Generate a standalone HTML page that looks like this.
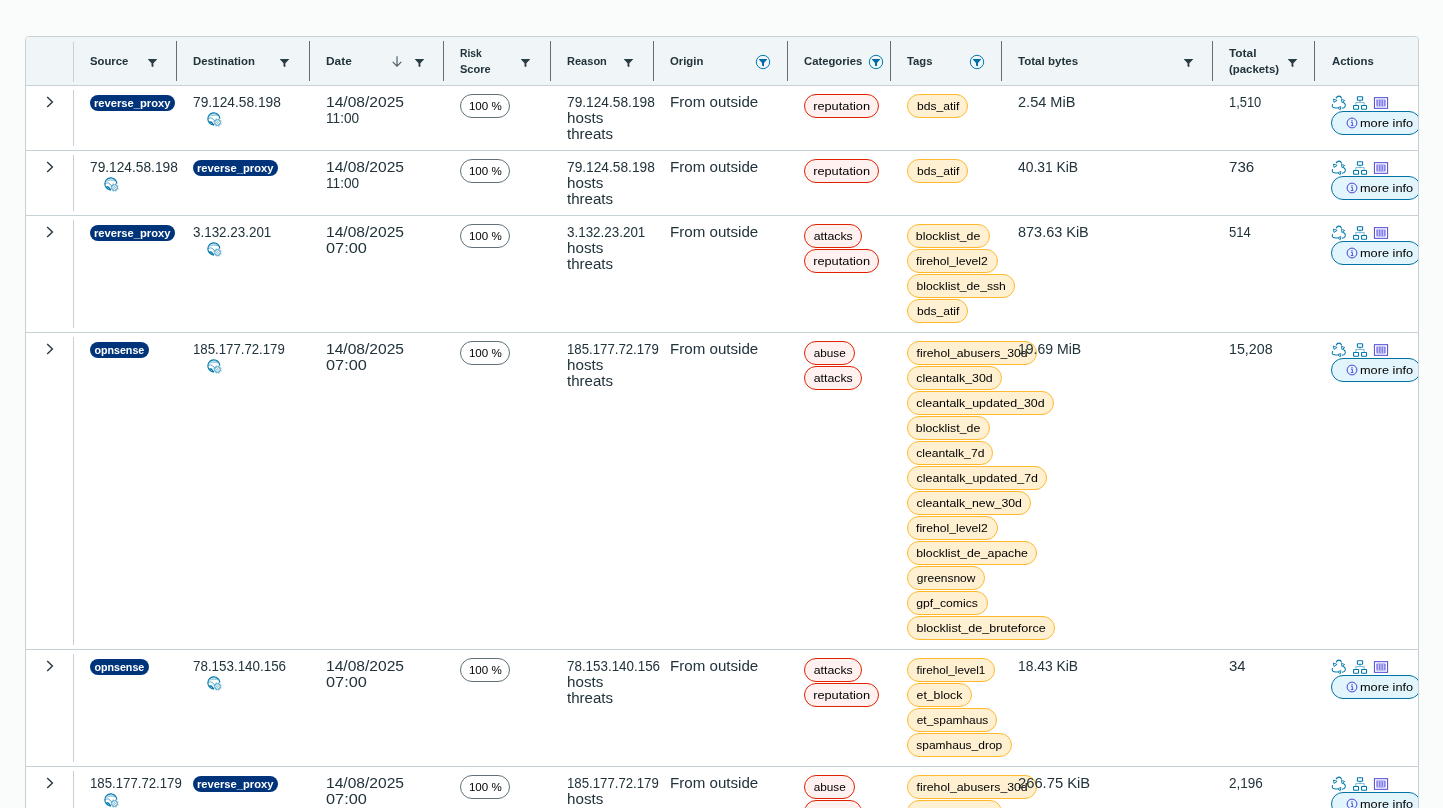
<!DOCTYPE html>
<html lang="en"><head><meta charset="utf-8"><title>Threats</title>
<style>
html,body{margin:0;padding:0}
body{width:1443px;height:808px;overflow:hidden;background:#fafcfc;font-family:"Liberation Sans",sans-serif;color:#21333b;position:relative}
.grid{position:absolute;left:25px;top:36px;width:1392px;height:900px;border:1px solid #c6d0d5;border-radius:4px 4px 0 0;background:#fff;overflow:hidden}
.hd{position:absolute;left:0;top:0;width:1392px;height:48px;background:#f0f5f7;border-bottom:1px solid #c6d0d5}
.hd .sl,.hd .sd{position:absolute;top:4px;width:1px;height:40px;background:#c6d0d5}
.hd .sd{background:#5f7078}
.hd .sl{top:5px}
.h{position:absolute;font-weight:700;font-size:11px;line-height:16px;white-space:nowrap;color:#21333b}
.t{white-space:nowrap;display:inline-block;transform-origin:0 50%}
.lb .t,.bdg .t{transform-origin:50% 50%}
.ab{position:absolute;display:block;line-height:0}
svg{display:block}
.row{position:absolute;left:0;width:1392px;border-bottom:1px solid #c6d0d5;background:transparent}
.rs{position:absolute;left:47px;top:4px;bottom:4px;width:1px;background:#c6d0d5}
.c{position:absolute;top:8px;font-size:14px;line-height:16px;white-space:nowrap}
.bdg{display:inline-block;height:16px;line-height:16px;border-radius:8px;background:#00347a;color:#fff;font-weight:700;font-size:10px;padding:0;text-align:center;margin-top:1px;vertical-align:top}
.bdg .t{vertical-align:top;line-height:16px;position:relative;top:.6px}
.glw{display:inline-block;margin-left:13.5px;vertical-align:top;margin-top:1.5px}
.lb{display:block;width:max-content;box-sizing:border-box;height:24px;line-height:22px;border-radius:12px;border:1px solid #5f7078;padding:0;text-align:center;margin:0 0 1px 0;font-size:11.5px;color:#000;background:#fff}
.lb .t{vertical-align:top;line-height:22px}
.lr{border-color:#e02200;background:#fff1ef}
.lo{border-color:#ffb92e;background:#fff0d1}
.acts{position:absolute;left:-1px;top:1px}
.act{line-height:0}
.mi{display:block;position:absolute;left:-1px;top:17px;width:90px;height:24px;box-sizing:border-box;border:1.4px solid #0072a3;border-radius:12px;background:#e3f5fc;font-size:11.5px;color:#000;line-height:21px}
.mi .inf{position:absolute;left:13.5px;top:5.1px}
.mi .t{position:absolute;left:27.7px;top:1px;line-height:21px}
</style></head>
<body>
<div class="grid">
<div class="hd">
<i class="sl" style="left:47px"></i>
<i class="sd" style="left:150px"></i>
<i class="sd" style="left:283px"></i>
<i class="sd" style="left:417px"></i>
<i class="sd" style="left:524px"></i>
<i class="sd" style="left:627px"></i>
<i class="sd" style="left:761px"></i>
<i class="sd" style="left:864px"></i>
<i class="sd" style="left:975px"></i>
<i class="sd" style="left:1186px"></i>
<i class="sd" style="left:1288px"></i>
<div class="h" style="left:64px;top:16px"><span class="t h" style="transform:scaleX(1.026)">Source</span></div>
<div class="h" style="left:167px;top:16px"><span class="t h" style="transform:scaleX(1.034)">Destination</span></div>
<div class="h" style="left:300px;top:16px"><span class="t h" style="transform:scaleX(1.082)">Date</span></div>
<div class="h" style="left:434px;top:8px"><span class="t h" style="transform:scaleX(0.936)">Risk</span></div>
<div class="h" style="left:434px;top:24px"><span class="t h" style="transform:scaleX(1.002)">Score</span></div>
<div class="h" style="left:541px;top:16px"><span class="t h" style="transform:scaleX(1.003)">Reason</span></div>
<div class="h" style="left:644px;top:16px"><span class="t h" style="transform:scaleX(1.029)">Origin</span></div>
<div class="h" style="left:778px;top:16px"><span class="t h" style="transform:scaleX(1.025)">Categories</span></div>
<div class="h" style="left:881px;top:16px"><span class="t h" style="transform:scaleX(1.024)">Tags</span></div>
<div class="h" style="left:992px;top:16px"><span class="t h" style="transform:scaleX(1.051)">Total bytes</span></div>
<div class="h" style="left:1203px;top:8px"><span class="t h" style="transform:scaleX(1.077)">Total</span></div>
<div class="h" style="left:1203px;top:24px"><span class="t h" style="transform:scaleX(1.036)">(packets)</span></div>
<div class="h" style="left:1306px;top:16px"><span class="t h" style="transform:scaleX(1.034)">Actions</span></div>
<span class="ab" style="left:121.6px;top:22px"><svg class="fi" viewBox="0 0 9 8" width="9" height="8"><path d="M.3 0h8.400a.3.3 0 0 1 .250.500L5.400 4.300V7.600c0 .3-.3.500-.6.400L3.500 7.300V4.300L.050.500A.3.3 0 0 1 .3 0z" fill="#2a3c44"/></svg></span>
<span class="ab" style="left:254.2px;top:22px"><svg class="fi" viewBox="0 0 9 8" width="9" height="8"><path d="M.3 0h8.400a.3.3 0 0 1 .250.500L5.400 4.300V7.600c0 .3-.3.500-.6.400L3.500 7.300V4.300L.050.500A.3.3 0 0 1 .3 0z" fill="#2a3c44"/></svg></span>
<span class="ab" style="left:388.6px;top:22px"><svg class="fi" viewBox="0 0 9 8" width="9" height="8"><path d="M.3 0h8.400a.3.3 0 0 1 .250.500L5.400 4.300V7.600c0 .3-.3.500-.6.400L3.500 7.300V4.300L.050.500A.3.3 0 0 1 .3 0z" fill="#2a3c44"/></svg></span>
<span class="ab" style="left:495.2px;top:22px"><svg class="fi" viewBox="0 0 9 8" width="9" height="8"><path d="M.3 0h8.400a.3.3 0 0 1 .250.500L5.400 4.300V7.600c0 .3-.3.500-.6.400L3.500 7.300V4.300L.050.500A.3.3 0 0 1 .3 0z" fill="#2a3c44"/></svg></span>
<span class="ab" style="left:598.3px;top:22px"><svg class="fi" viewBox="0 0 9 8" width="9" height="8"><path d="M.3 0h8.400a.3.3 0 0 1 .250.500L5.400 4.300V7.600c0 .3-.3.500-.6.400L3.500 7.300V4.300L.050.500A.3.3 0 0 1 .3 0z" fill="#2a3c44"/></svg></span>
<span class="ab" style="left:1157.7px;top:22px"><svg class="fi" viewBox="0 0 9 8" width="9" height="8"><path d="M.3 0h8.400a.3.3 0 0 1 .250.500L5.400 4.300V7.600c0 .3-.3.500-.6.400L3.500 7.300V4.300L.050.500A.3.3 0 0 1 .3 0z" fill="#2a3c44"/></svg></span>
<span class="ab" style="left:1262.4px;top:22px"><svg class="fi" viewBox="0 0 9 8" width="9" height="8"><path d="M.3 0h8.400a.3.3 0 0 1 .250.500L5.400 4.300V7.600c0 .3-.3.500-.6.400L3.500 7.300V4.300L.050.500A.3.3 0 0 1 .3 0z" fill="#2a3c44"/></svg></span>
<span class="ab" style="left:728.8px;top:16.8px"><svg class="fc" viewBox="0 0 16 16" width="16" height="16"><circle cx="8" cy="8" r="6.700" fill="none" stroke="#0079ad" stroke-width="1"/><path d="M4.200 5h7.600a.3.3 0 0 1 .230.500L9 9v2.800c0 .3-.3.500-.6.400L7 11.500V9L3.970 5.500A.3.300 0 0 1 4.200 5z" fill="#006aa6"/></svg></span>
<span class="ab" style="left:842.0px;top:16.8px"><svg class="fc" viewBox="0 0 16 16" width="16" height="16"><circle cx="8" cy="8" r="6.700" fill="none" stroke="#0079ad" stroke-width="1"/><path d="M4.200 5h7.600a.3.3 0 0 1 .230.500L9 9v2.800c0 .3-.3.500-.6.400L7 11.500V9L3.970 5.500A.3.300 0 0 1 4.200 5z" fill="#006aa6"/></svg></span>
<span class="ab" style="left:943.0px;top:16.8px"><svg class="fc" viewBox="0 0 16 16" width="16" height="16"><circle cx="8" cy="8" r="6.700" fill="none" stroke="#0079ad" stroke-width="1"/><path d="M4.200 5h7.600a.3.3 0 0 1 .230.500L9 9v2.800c0 .3-.3.500-.6.400L7 11.500V9L3.970 5.500A.3.300 0 0 1 4.200 5z" fill="#006aa6"/></svg></span>
<span class="ab" style="left:366.4px;top:19.0px"><svg class="ar" viewBox="0 0 10 11" width="10" height="11"><path d="M5 .2v10M.7 5.800l4.300 4.300 4.300-4.300" fill="none" stroke="#4b5c64" stroke-width="1.150"/></svg></span>
</div>
<div class="row" style="top:49px;height:64px">
<i class="rs"></i>
<span class="ab" style="left:20px;top:10px"><svg class="ca" viewBox="0 0 8 12" width="8" height="12"><path d="M1.2 1l5.2 5-5.2 5" fill="none" stroke="#2a3c44" stroke-width="1.450"/></svg></span>
<div class="c" style="left:64px"><span class="bdg" style="width:85px"><span class="t bd" style="transform:scaleX(1.118)">reverse_proxy</span></span></div>
<div class="c" style="left:167px"><span class="t v" style="transform:scaleX(0.981)">79.124.58.198</span><br><span class="glw"><svg class="gl" viewBox="0 0 15 15" width="15" height="15"><g fill="none" stroke="#0079ad"><path d="M6.33 12.83A6 6 0 1 1 12.8 6.08" stroke-width="1.150" stroke-linecap="round"/><path d="M2.400 4.300C5 2.900 8.700 2.800 11.500 4" stroke-width=".8" opacity=".6"/><path d="M3.600 2.300c2.400-.600 5-.300 7 .700" stroke-width=".7" opacity=".45"/><path d="M1.200 6.600C3 5.600 4.800 5.800 5.800 6.900c.700.800 1 1.600 2 2" stroke-width=".8" opacity=".8"/><path d="M2.600 10.200c.900-.500 1.900-.200 2.500.700.500.700.500 1.400 1.200 1.800" stroke-width="1.400" stroke-linecap="round"/><path d="M13.41 11.71L14.29 12.07M11.71 13.41L12.07 14.29M9.29 13.41L8.93 14.29M7.59 11.71L6.71 12.07M7.59 9.29L6.71 8.93M9.29 7.59L8.93 6.71M11.71 7.59L12.07 6.71M13.41 9.29L14.29 8.93" stroke-width="1.100"/><circle cx="10.500" cy="10.500" r="2.750" stroke-width=".7"/><circle cx="10.500" cy="10.500" r=".9" stroke-width=".55" opacity=".8"/></g></svg></span></div>
<div class="c" style="left:300px"><span class="t v" style="transform:scaleX(1.113)">14/08/2025</span><br><span class="t v" style="transform:scaleX(0.974)">11:00</span></div>
<div class="c" style="left:434px"><span class="lb lg" style="width:50.0px"><span class="t l" style="transform:scaleX(1.007)">100 %</span></span></div>
<div class="c" style="left:541px"><span class="t v" style="transform:scaleX(0.981)">79.124.58.198</span><br><span class="t v" style="transform:scaleX(1.084)">hosts</span><br><span class="t v" style="transform:scaleX(1.077)">threats</span></div>
<div class="c" style="left:644px"><span class="t v" style="transform:scaleX(1.080)">From outside</span></div>
<div class="c" style="left:778px"><span class="lb lr" style="width:74.8px"><span class="t l" style="transform:scaleX(1.112)">reputation</span></span></div>
<div class="c" style="left:881px"><span class="lb lo" style="width:61.4px"><span class="t l" style="transform:scaleX(1.054)">bds_atif</span></span></div>
<div class="c" style="left:992px"><span class="t v" style="transform:scaleX(1.039)">2.54 MiB</span></div>
<div class="c" style="left:1203px"><span class="t v" style="transform:scaleX(0.921)">1,510</span></div>
<div class="c act" style="left:1306px"><svg class="acts" viewBox="0 0 58 16" width="58" height="16"><g fill="none" stroke="#0079ad" stroke-width="1.05" stroke-linecap="round" stroke-linejoin="round"><path d="M5.3 3C5.8 1.5 6.9 1.1 8 1.1c1.300 0 2.100.700 2.500 2"/><path d="M12.600 7.500c1.500 1.100 2.200 2.300 1.700 3.600-.500 1.300-1.600 2-3.100 2.200"/><path d="M1.500 9.500c-.600 1.100-.400 2 .300 2.700.900.800 2.200.900 4 .800"/><path d="M2.800 4.200l3.300 1.200-2.800 1.800z" stroke-width=".9"/><path d="M10.800 4.500l2.900 1-2.400 1.900z" stroke-width=".9"/><path d="M9.500 11.700l-3 1.100 2.500 1.700z" stroke-width=".9"/></g><g fill="none" stroke="#0079ad" stroke-width="1.1" stroke-linejoin="round"><rect x="26.400" y="1.750" width="5.200" height="3.500" rx=".5"/><rect x="22.550" y="10.550" width="5" height="3.700" rx=".5"/><rect x="30.550" y="10.550" width="5" height="3.700" rx=".5"/><path d="M29 5.500v2M24.800 10V7.600h8.400V10" stroke-width=".7" opacity=".75"/></g><rect x="43.450" y="2.650" width="13.100" height="10.700" fill="#fff" stroke="#5b57d9" stroke-width="1.1"/><rect x="45.300" y="4.500" width="9.400" height="7" rx=".8" fill="#8581e6"/><path d="M47.400 5v6M50 5v6M52.600 5v6" stroke="#cfcdf6" stroke-width="1.050"/></svg><span class="mi"><svg class="inf" viewBox="0 0 12 12" width="12" height="12"><circle cx="6" cy="6" r="4.900" fill="none" stroke="#4b43d6" stroke-width="1"/><circle cx="6" cy="3.700" r=".700" fill="#4b43d6"/><path d="M5 5.300h1.400v3M4.800 8.500h2.600" fill="none" stroke="#4b43d6" stroke-width=".9"/></svg><span class="t m" style="transform:scaleX(1.108)">more info</span></span></div>
</div>
<div class="row" style="top:114px;height:64px">
<i class="rs"></i>
<span class="ab" style="left:20px;top:10px"><svg class="ca" viewBox="0 0 8 12" width="8" height="12"><path d="M1.2 1l5.2 5-5.2 5" fill="none" stroke="#2a3c44" stroke-width="1.450"/></svg></span>
<div class="c" style="left:64px"><span class="t v" style="transform:scaleX(0.981)">79.124.58.198</span><br><span class="glw"><svg class="gl" viewBox="0 0 15 15" width="15" height="15"><g fill="none" stroke="#0079ad"><path d="M6.33 12.83A6 6 0 1 1 12.8 6.08" stroke-width="1.150" stroke-linecap="round"/><path d="M2.400 4.300C5 2.900 8.700 2.800 11.500 4" stroke-width=".8" opacity=".6"/><path d="M3.600 2.300c2.400-.600 5-.300 7 .700" stroke-width=".7" opacity=".45"/><path d="M1.200 6.600C3 5.600 4.800 5.800 5.800 6.900c.700.800 1 1.600 2 2" stroke-width=".8" opacity=".8"/><path d="M2.600 10.200c.900-.500 1.900-.200 2.500.700.500.700.500 1.400 1.200 1.800" stroke-width="1.400" stroke-linecap="round"/><path d="M13.41 11.71L14.29 12.07M11.71 13.41L12.07 14.29M9.29 13.41L8.93 14.29M7.59 11.71L6.71 12.07M7.59 9.29L6.71 8.93M9.29 7.59L8.93 6.71M11.71 7.59L12.07 6.71M13.41 9.29L14.29 8.93" stroke-width="1.100"/><circle cx="10.500" cy="10.500" r="2.750" stroke-width=".7"/><circle cx="10.500" cy="10.500" r=".9" stroke-width=".55" opacity=".8"/></g></svg></span></div>
<div class="c" style="left:167px"><span class="bdg" style="width:85px"><span class="t bd" style="transform:scaleX(1.118)">reverse_proxy</span></span></div>
<div class="c" style="left:300px"><span class="t v" style="transform:scaleX(1.113)">14/08/2025</span><br><span class="t v" style="transform:scaleX(0.974)">11:00</span></div>
<div class="c" style="left:434px"><span class="lb lg" style="width:50.0px"><span class="t l" style="transform:scaleX(1.007)">100 %</span></span></div>
<div class="c" style="left:541px"><span class="t v" style="transform:scaleX(0.981)">79.124.58.198</span><br><span class="t v" style="transform:scaleX(1.084)">hosts</span><br><span class="t v" style="transform:scaleX(1.077)">threats</span></div>
<div class="c" style="left:644px"><span class="t v" style="transform:scaleX(1.080)">From outside</span></div>
<div class="c" style="left:778px"><span class="lb lr" style="width:74.8px"><span class="t l" style="transform:scaleX(1.112)">reputation</span></span></div>
<div class="c" style="left:881px"><span class="lb lo" style="width:61.4px"><span class="t l" style="transform:scaleX(1.054)">bds_atif</span></span></div>
<div class="c" style="left:992px"><span class="t v" style="transform:scaleX(0.990)">40.31 KiB</span></div>
<div class="c" style="left:1203px"><span class="t v" style="transform:scaleX(1.080)">736</span></div>
<div class="c act" style="left:1306px"><svg class="acts" viewBox="0 0 58 16" width="58" height="16"><g fill="none" stroke="#0079ad" stroke-width="1.05" stroke-linecap="round" stroke-linejoin="round"><path d="M5.3 3C5.8 1.5 6.9 1.1 8 1.1c1.300 0 2.100.700 2.500 2"/><path d="M12.600 7.500c1.500 1.100 2.200 2.300 1.700 3.600-.500 1.300-1.600 2-3.100 2.200"/><path d="M1.500 9.500c-.600 1.100-.400 2 .300 2.700.900.800 2.200.900 4 .800"/><path d="M2.800 4.200l3.300 1.200-2.800 1.800z" stroke-width=".9"/><path d="M10.800 4.500l2.900 1-2.400 1.900z" stroke-width=".9"/><path d="M9.500 11.700l-3 1.100 2.500 1.700z" stroke-width=".9"/></g><g fill="none" stroke="#0079ad" stroke-width="1.1" stroke-linejoin="round"><rect x="26.400" y="1.750" width="5.200" height="3.500" rx=".5"/><rect x="22.550" y="10.550" width="5" height="3.700" rx=".5"/><rect x="30.550" y="10.550" width="5" height="3.700" rx=".5"/><path d="M29 5.500v2M24.800 10V7.600h8.400V10" stroke-width=".7" opacity=".75"/></g><rect x="43.450" y="2.650" width="13.100" height="10.700" fill="#fff" stroke="#5b57d9" stroke-width="1.1"/><rect x="45.300" y="4.500" width="9.400" height="7" rx=".8" fill="#8581e6"/><path d="M47.400 5v6M50 5v6M52.600 5v6" stroke="#cfcdf6" stroke-width="1.050"/></svg><span class="mi"><svg class="inf" viewBox="0 0 12 12" width="12" height="12"><circle cx="6" cy="6" r="4.900" fill="none" stroke="#4b43d6" stroke-width="1"/><circle cx="6" cy="3.700" r=".700" fill="#4b43d6"/><path d="M5 5.300h1.400v3M4.800 8.500h2.600" fill="none" stroke="#4b43d6" stroke-width=".9"/></svg><span class="t m" style="transform:scaleX(1.108)">more info</span></span></div>
</div>
<div class="row" style="top:179px;height:116px">
<i class="rs"></i>
<span class="ab" style="left:20px;top:10px"><svg class="ca" viewBox="0 0 8 12" width="8" height="12"><path d="M1.2 1l5.2 5-5.2 5" fill="none" stroke="#2a3c44" stroke-width="1.450"/></svg></span>
<div class="c" style="left:64px"><span class="bdg" style="width:85px"><span class="t bd" style="transform:scaleX(1.118)">reverse_proxy</span></span></div>
<div class="c" style="left:167px"><span class="t v" style="transform:scaleX(0.958)">3.132.23.201</span><br><span class="glw"><svg class="gl" viewBox="0 0 15 15" width="15" height="15"><g fill="none" stroke="#0079ad"><path d="M6.33 12.83A6 6 0 1 1 12.8 6.08" stroke-width="1.150" stroke-linecap="round"/><path d="M2.400 4.300C5 2.900 8.700 2.800 11.500 4" stroke-width=".8" opacity=".6"/><path d="M3.600 2.300c2.400-.600 5-.300 7 .700" stroke-width=".7" opacity=".45"/><path d="M1.200 6.600C3 5.600 4.800 5.800 5.800 6.900c.700.800 1 1.600 2 2" stroke-width=".8" opacity=".8"/><path d="M2.600 10.200c.900-.500 1.900-.200 2.500.700.500.700.500 1.400 1.200 1.800" stroke-width="1.400" stroke-linecap="round"/><path d="M13.41 11.71L14.29 12.07M11.71 13.41L12.07 14.29M9.29 13.41L8.93 14.29M7.59 11.71L6.71 12.07M7.59 9.29L6.71 8.93M9.29 7.59L8.93 6.71M11.71 7.59L12.07 6.71M13.41 9.29L14.29 8.93" stroke-width="1.100"/><circle cx="10.500" cy="10.500" r="2.750" stroke-width=".7"/><circle cx="10.500" cy="10.500" r=".9" stroke-width=".55" opacity=".8"/></g></svg></span></div>
<div class="c" style="left:300px"><span class="t v" style="transform:scaleX(1.113)">14/08/2025</span><br><span class="t v" style="transform:scaleX(1.167)">07:00</span></div>
<div class="c" style="left:434px"><span class="lb lg" style="width:50.0px"><span class="t l" style="transform:scaleX(1.007)">100 %</span></span></div>
<div class="c" style="left:541px"><span class="t v" style="transform:scaleX(0.958)">3.132.23.201</span><br><span class="t v" style="transform:scaleX(1.084)">hosts</span><br><span class="t v" style="transform:scaleX(1.077)">threats</span></div>
<div class="c" style="left:644px"><span class="t v" style="transform:scaleX(1.080)">From outside</span></div>
<div class="c" style="left:778px"><span class="lb lr" style="width:57.8px"><span class="t l" style="transform:scaleX(1.072)">attacks</span></span><span class="lb lr" style="width:74.8px"><span class="t l" style="transform:scaleX(1.112)">reputation</span></span></div>
<div class="c" style="left:881px"><span class="lb lo" style="width:82.6px"><span class="t l" style="transform:scaleX(1.074)">blocklist_de</span></span><span class="lb lo" style="width:90.6px"><span class="t l" style="transform:scaleX(1.059)">firehol_level2</span></span><span class="lb lo" style="width:107.6px"><span class="t l" style="transform:scaleX(1.058)">blocklist_de_ssh</span></span><span class="lb lo" style="width:61.4px"><span class="t l" style="transform:scaleX(1.054)">bds_atif</span></span></div>
<div class="c" style="left:992px"><span class="t v" style="transform:scaleX(1.033)">873.63 KiB</span></div>
<div class="c" style="left:1203px"><span class="t v" style="transform:scaleX(0.932)">514</span></div>
<div class="c act" style="left:1306px"><svg class="acts" viewBox="0 0 58 16" width="58" height="16"><g fill="none" stroke="#0079ad" stroke-width="1.05" stroke-linecap="round" stroke-linejoin="round"><path d="M5.3 3C5.8 1.5 6.9 1.1 8 1.1c1.300 0 2.100.700 2.500 2"/><path d="M12.600 7.500c1.500 1.100 2.200 2.300 1.700 3.600-.500 1.300-1.600 2-3.100 2.200"/><path d="M1.500 9.500c-.600 1.100-.400 2 .300 2.700.900.800 2.200.900 4 .800"/><path d="M2.800 4.200l3.300 1.200-2.800 1.800z" stroke-width=".9"/><path d="M10.800 4.500l2.900 1-2.400 1.900z" stroke-width=".9"/><path d="M9.500 11.700l-3 1.100 2.500 1.700z" stroke-width=".9"/></g><g fill="none" stroke="#0079ad" stroke-width="1.1" stroke-linejoin="round"><rect x="26.400" y="1.750" width="5.200" height="3.500" rx=".5"/><rect x="22.550" y="10.550" width="5" height="3.700" rx=".5"/><rect x="30.550" y="10.550" width="5" height="3.700" rx=".5"/><path d="M29 5.500v2M24.800 10V7.600h8.400V10" stroke-width=".7" opacity=".75"/></g><rect x="43.450" y="2.650" width="13.100" height="10.700" fill="#fff" stroke="#5b57d9" stroke-width="1.1"/><rect x="45.300" y="4.500" width="9.400" height="7" rx=".8" fill="#8581e6"/><path d="M47.400 5v6M50 5v6M52.600 5v6" stroke="#cfcdf6" stroke-width="1.050"/></svg><span class="mi"><svg class="inf" viewBox="0 0 12 12" width="12" height="12"><circle cx="6" cy="6" r="4.900" fill="none" stroke="#4b43d6" stroke-width="1"/><circle cx="6" cy="3.700" r=".700" fill="#4b43d6"/><path d="M5 5.300h1.400v3M4.800 8.500h2.600" fill="none" stroke="#4b43d6" stroke-width=".9"/></svg><span class="t m" style="transform:scaleX(1.108)">more info</span></span></div>
</div>
<div class="row" style="top:296px;height:316px">
<i class="rs"></i>
<span class="ab" style="left:20px;top:10px"><svg class="ca" viewBox="0 0 8 12" width="8" height="12"><path d="M1.2 1l5.2 5-5.2 5" fill="none" stroke="#2a3c44" stroke-width="1.450"/></svg></span>
<div class="c" style="left:64px"><span class="bdg" style="width:59px"><span class="t bd" style="transform:scaleX(1.069)">opnsense</span></span></div>
<div class="c" style="left:167px"><span class="t v" style="transform:scaleX(0.943)">185.177.72.179</span><br><span class="glw"><svg class="gl" viewBox="0 0 15 15" width="15" height="15"><g fill="none" stroke="#0079ad"><path d="M6.33 12.83A6 6 0 1 1 12.8 6.08" stroke-width="1.150" stroke-linecap="round"/><path d="M2.400 4.300C5 2.900 8.700 2.800 11.500 4" stroke-width=".8" opacity=".6"/><path d="M3.600 2.300c2.400-.600 5-.300 7 .700" stroke-width=".7" opacity=".45"/><path d="M1.200 6.600C3 5.600 4.800 5.800 5.800 6.900c.700.800 1 1.600 2 2" stroke-width=".8" opacity=".8"/><path d="M2.600 10.200c.900-.500 1.900-.200 2.500.700.500.700.500 1.400 1.200 1.800" stroke-width="1.400" stroke-linecap="round"/><path d="M13.41 11.71L14.29 12.07M11.71 13.41L12.07 14.29M9.29 13.41L8.93 14.29M7.59 11.71L6.71 12.07M7.59 9.29L6.71 8.93M9.29 7.59L8.93 6.71M11.71 7.59L12.07 6.71M13.41 9.29L14.29 8.93" stroke-width="1.100"/><circle cx="10.500" cy="10.500" r="2.750" stroke-width=".7"/><circle cx="10.500" cy="10.500" r=".9" stroke-width=".55" opacity=".8"/></g></svg></span></div>
<div class="c" style="left:300px"><span class="t v" style="transform:scaleX(1.113)">14/08/2025</span><br><span class="t v" style="transform:scaleX(1.167)">07:00</span></div>
<div class="c" style="left:434px"><span class="lb lg" style="width:50.0px"><span class="t l" style="transform:scaleX(1.007)">100 %</span></span></div>
<div class="c" style="left:541px"><span class="t v" style="transform:scaleX(0.943)">185.177.72.179</span><br><span class="t v" style="transform:scaleX(1.084)">hosts</span><br><span class="t v" style="transform:scaleX(1.077)">threats</span></div>
<div class="c" style="left:644px"><span class="t v" style="transform:scaleX(1.080)">From outside</span></div>
<div class="c" style="left:778px"><span class="lb lr" style="width:50.8px"><span class="t l" style="transform:scaleX(1.021)">abuse</span></span><span class="lb lr" style="width:57.8px"><span class="t l" style="transform:scaleX(1.072)">attacks</span></span></div>
<div class="c" style="left:881px"><span class="lb lo" style="width:129.7px"><span class="t l" style="transform:scaleX(1.066)">firehol_abusers_30d</span></span><span class="lb lo" style="width:94.7px"><span class="t l" style="transform:scaleX(1.076)">cleantalk_30d</span></span><span class="lb lo" style="width:146.7px"><span class="t l" style="transform:scaleX(1.079)">cleantalk_updated_30d</span></span><span class="lb lo" style="width:82.6px"><span class="t l" style="transform:scaleX(1.074)">blocklist_de</span></span><span class="lb lo" style="width:86.3px"><span class="t l" style="transform:scaleX(1.056)">cleantalk_7d</span></span><span class="lb lo" style="width:139.8px"><span class="t l" style="transform:scaleX(1.078)">cleantalk_updated_7d</span></span><span class="lb lo" style="width:123.8px"><span class="t l" style="transform:scaleX(1.070)">cleantalk_new_30d</span></span><span class="lb lo" style="width:90.6px"><span class="t l" style="transform:scaleX(1.059)">firehol_level2</span></span><span class="lb lo" style="width:129.8px"><span class="t l" style="transform:scaleX(1.072)">blocklist_de_apache</span></span><span class="lb lo" style="width:77.7px"><span class="t l" style="transform:scaleX(1.042)">greensnow</span></span><span class="lb lo" style="width:80.5px"><span class="t l" style="transform:scaleX(1.061)">gpf_comics</span></span><span class="lb lo" style="width:147.6px"><span class="t l" style="transform:scaleX(1.094)">blocklist_de_bruteforce</span></span></div>
<div class="c" style="left:992px"><span class="t v" style="transform:scaleX(1.003)">19.69 MiB</span></div>
<div class="c" style="left:1203px"><span class="t v" style="transform:scaleX(1.018)">15,208</span></div>
<div class="c act" style="left:1306px"><svg class="acts" viewBox="0 0 58 16" width="58" height="16"><g fill="none" stroke="#0079ad" stroke-width="1.05" stroke-linecap="round" stroke-linejoin="round"><path d="M5.3 3C5.8 1.5 6.9 1.1 8 1.1c1.300 0 2.100.700 2.500 2"/><path d="M12.600 7.500c1.500 1.100 2.200 2.300 1.700 3.600-.500 1.300-1.600 2-3.100 2.200"/><path d="M1.500 9.500c-.600 1.100-.400 2 .300 2.700.900.800 2.200.900 4 .800"/><path d="M2.800 4.200l3.300 1.200-2.800 1.800z" stroke-width=".9"/><path d="M10.800 4.500l2.900 1-2.400 1.900z" stroke-width=".9"/><path d="M9.500 11.700l-3 1.100 2.500 1.700z" stroke-width=".9"/></g><g fill="none" stroke="#0079ad" stroke-width="1.1" stroke-linejoin="round"><rect x="26.400" y="1.750" width="5.200" height="3.500" rx=".5"/><rect x="22.550" y="10.550" width="5" height="3.700" rx=".5"/><rect x="30.550" y="10.550" width="5" height="3.700" rx=".5"/><path d="M29 5.500v2M24.800 10V7.600h8.400V10" stroke-width=".7" opacity=".75"/></g><rect x="43.450" y="2.650" width="13.100" height="10.700" fill="#fff" stroke="#5b57d9" stroke-width="1.1"/><rect x="45.300" y="4.500" width="9.400" height="7" rx=".8" fill="#8581e6"/><path d="M47.400 5v6M50 5v6M52.600 5v6" stroke="#cfcdf6" stroke-width="1.050"/></svg><span class="mi"><svg class="inf" viewBox="0 0 12 12" width="12" height="12"><circle cx="6" cy="6" r="4.900" fill="none" stroke="#4b43d6" stroke-width="1"/><circle cx="6" cy="3.700" r=".700" fill="#4b43d6"/><path d="M5 5.300h1.400v3M4.800 8.500h2.600" fill="none" stroke="#4b43d6" stroke-width=".9"/></svg><span class="t m" style="transform:scaleX(1.108)">more info</span></span></div>
</div>
<div class="row" style="top:613px;height:116px">
<i class="rs"></i>
<span class="ab" style="left:20px;top:10px"><svg class="ca" viewBox="0 0 8 12" width="8" height="12"><path d="M1.2 1l5.2 5-5.2 5" fill="none" stroke="#2a3c44" stroke-width="1.450"/></svg></span>
<div class="c" style="left:64px"><span class="bdg" style="width:59px"><span class="t bd" style="transform:scaleX(1.069)">opnsense</span></span></div>
<div class="c" style="left:167px"><span class="t v" style="transform:scaleX(0.956)">78.153.140.156</span><br><span class="glw"><svg class="gl" viewBox="0 0 15 15" width="15" height="15"><g fill="none" stroke="#0079ad"><path d="M6.33 12.83A6 6 0 1 1 12.8 6.08" stroke-width="1.150" stroke-linecap="round"/><path d="M2.400 4.300C5 2.900 8.700 2.800 11.500 4" stroke-width=".8" opacity=".6"/><path d="M3.600 2.300c2.400-.600 5-.300 7 .700" stroke-width=".7" opacity=".45"/><path d="M1.200 6.600C3 5.600 4.800 5.800 5.800 6.900c.700.800 1 1.600 2 2" stroke-width=".8" opacity=".8"/><path d="M2.600 10.200c.900-.500 1.900-.200 2.500.700.500.700.500 1.400 1.200 1.800" stroke-width="1.400" stroke-linecap="round"/><path d="M13.41 11.71L14.29 12.07M11.71 13.41L12.07 14.29M9.29 13.41L8.93 14.29M7.59 11.71L6.71 12.07M7.59 9.29L6.71 8.93M9.29 7.59L8.93 6.71M11.71 7.59L12.07 6.71M13.41 9.29L14.29 8.93" stroke-width="1.100"/><circle cx="10.500" cy="10.500" r="2.750" stroke-width=".7"/><circle cx="10.500" cy="10.500" r=".9" stroke-width=".55" opacity=".8"/></g></svg></span></div>
<div class="c" style="left:300px"><span class="t v" style="transform:scaleX(1.113)">14/08/2025</span><br><span class="t v" style="transform:scaleX(1.167)">07:00</span></div>
<div class="c" style="left:434px"><span class="lb lg" style="width:50.0px"><span class="t l" style="transform:scaleX(1.007)">100 %</span></span></div>
<div class="c" style="left:541px"><span class="t v" style="transform:scaleX(0.956)">78.153.140.156</span><br><span class="t v" style="transform:scaleX(1.084)">hosts</span><br><span class="t v" style="transform:scaleX(1.077)">threats</span></div>
<div class="c" style="left:644px"><span class="t v" style="transform:scaleX(1.080)">From outside</span></div>
<div class="c" style="left:778px"><span class="lb lr" style="width:57.8px"><span class="t l" style="transform:scaleX(1.072)">attacks</span></span><span class="lb lr" style="width:74.8px"><span class="t l" style="transform:scaleX(1.112)">reputation</span></span></div>
<div class="c" style="left:881px"><span class="lb lo" style="width:87.7px"><span class="t l" style="transform:scaleX(1.018)">firehol_level1</span></span><span class="lb lo" style="width:64.5px"><span class="t l" style="transform:scaleX(1.067)">et_block</span></span><span class="lb lo" style="width:90.4px"><span class="t l" style="transform:scaleX(1.037)">et_spamhaus</span></span><span class="lb lo" style="width:104.6px"><span class="t l" style="transform:scaleX(1.043)">spamhaus_drop</span></span></div>
<div class="c" style="left:992px"><span class="t v" style="transform:scaleX(0.988)">18.43 KiB</span></div>
<div class="c" style="left:1203px"><span class="t v" style="transform:scaleX(1.068)">34</span></div>
<div class="c act" style="left:1306px"><svg class="acts" viewBox="0 0 58 16" width="58" height="16"><g fill="none" stroke="#0079ad" stroke-width="1.05" stroke-linecap="round" stroke-linejoin="round"><path d="M5.3 3C5.8 1.5 6.9 1.1 8 1.1c1.300 0 2.100.700 2.500 2"/><path d="M12.600 7.500c1.500 1.100 2.200 2.300 1.700 3.600-.500 1.300-1.600 2-3.100 2.200"/><path d="M1.500 9.500c-.600 1.100-.400 2 .300 2.700.900.800 2.200.900 4 .800"/><path d="M2.800 4.200l3.300 1.200-2.800 1.800z" stroke-width=".9"/><path d="M10.800 4.500l2.900 1-2.400 1.900z" stroke-width=".9"/><path d="M9.500 11.700l-3 1.100 2.500 1.700z" stroke-width=".9"/></g><g fill="none" stroke="#0079ad" stroke-width="1.1" stroke-linejoin="round"><rect x="26.400" y="1.750" width="5.200" height="3.500" rx=".5"/><rect x="22.550" y="10.550" width="5" height="3.700" rx=".5"/><rect x="30.550" y="10.550" width="5" height="3.700" rx=".5"/><path d="M29 5.500v2M24.800 10V7.600h8.400V10" stroke-width=".7" opacity=".75"/></g><rect x="43.450" y="2.650" width="13.100" height="10.700" fill="#fff" stroke="#5b57d9" stroke-width="1.1"/><rect x="45.300" y="4.500" width="9.400" height="7" rx=".8" fill="#8581e6"/><path d="M47.400 5v6M50 5v6M52.600 5v6" stroke="#cfcdf6" stroke-width="1.050"/></svg><span class="mi"><svg class="inf" viewBox="0 0 12 12" width="12" height="12"><circle cx="6" cy="6" r="4.900" fill="none" stroke="#4b43d6" stroke-width="1"/><circle cx="6" cy="3.700" r=".700" fill="#4b43d6"/><path d="M5 5.300h1.400v3M4.800 8.500h2.600" fill="none" stroke="#4b43d6" stroke-width=".9"/></svg><span class="t m" style="transform:scaleX(1.108)">more info</span></span></div>
</div>
<div class="row" style="top:730px;height:116px">
<i class="rs"></i>
<span class="ab" style="left:20px;top:10px"><svg class="ca" viewBox="0 0 8 12" width="8" height="12"><path d="M1.2 1l5.2 5-5.2 5" fill="none" stroke="#2a3c44" stroke-width="1.450"/></svg></span>
<div class="c" style="left:64px"><span class="t v" style="transform:scaleX(0.943)">185.177.72.179</span><br><span class="glw"><svg class="gl" viewBox="0 0 15 15" width="15" height="15"><g fill="none" stroke="#0079ad"><path d="M6.33 12.83A6 6 0 1 1 12.8 6.08" stroke-width="1.150" stroke-linecap="round"/><path d="M2.400 4.300C5 2.900 8.700 2.800 11.500 4" stroke-width=".8" opacity=".6"/><path d="M3.600 2.300c2.400-.600 5-.300 7 .700" stroke-width=".7" opacity=".45"/><path d="M1.200 6.600C3 5.600 4.800 5.800 5.800 6.900c.700.800 1 1.600 2 2" stroke-width=".8" opacity=".8"/><path d="M2.600 10.200c.900-.500 1.900-.200 2.500.700.500.700.500 1.400 1.200 1.800" stroke-width="1.400" stroke-linecap="round"/><path d="M13.41 11.71L14.29 12.07M11.71 13.41L12.07 14.29M9.29 13.41L8.93 14.29M7.59 11.71L6.71 12.07M7.59 9.29L6.71 8.93M9.29 7.59L8.93 6.71M11.71 7.59L12.07 6.71M13.41 9.29L14.29 8.93" stroke-width="1.100"/><circle cx="10.500" cy="10.500" r="2.750" stroke-width=".7"/><circle cx="10.500" cy="10.500" r=".9" stroke-width=".55" opacity=".8"/></g></svg></span></div>
<div class="c" style="left:167px"><span class="bdg" style="width:85px"><span class="t bd" style="transform:scaleX(1.118)">reverse_proxy</span></span></div>
<div class="c" style="left:300px"><span class="t v" style="transform:scaleX(1.113)">14/08/2025</span><br><span class="t v" style="transform:scaleX(1.167)">07:00</span></div>
<div class="c" style="left:434px"><span class="lb lg" style="width:50.0px"><span class="t l" style="transform:scaleX(1.007)">100 %</span></span></div>
<div class="c" style="left:541px"><span class="t v" style="transform:scaleX(0.943)">185.177.72.179</span><br><span class="t v" style="transform:scaleX(1.084)">hosts</span><br><span class="t v" style="transform:scaleX(1.077)">threats</span></div>
<div class="c" style="left:644px"><span class="t v" style="transform:scaleX(1.080)">From outside</span></div>
<div class="c" style="left:778px"><span class="lb lr" style="width:50.8px"><span class="t l" style="transform:scaleX(1.021)">abuse</span></span><span class="lb lr" style="width:57.8px"><span class="t l" style="transform:scaleX(1.072)">attacks</span></span></div>
<div class="c" style="left:881px"><span class="lb lo" style="width:129.7px"><span class="t l" style="transform:scaleX(1.066)">firehol_abusers_30d</span></span><span class="lb lo" style="width:94.7px"><span class="t l" style="transform:scaleX(1.076)">cleantalk_30d</span></span><span class="lb lo" style="width:146.7px"><span class="t l" style="transform:scaleX(1.079)">cleantalk_updated_30d</span></span><span class="lb lo" style="width:82.6px"><span class="t l" style="transform:scaleX(1.074)">blocklist_de</span></span></div>
<div class="c" style="left:992px"><span class="t v" style="transform:scaleX(1.054)">266.75 KiB</span></div>
<div class="c" style="left:1203px"><span class="t v" style="transform:scaleX(0.966)">2,196</span></div>
<div class="c act" style="left:1306px"><svg class="acts" viewBox="0 0 58 16" width="58" height="16"><g fill="none" stroke="#0079ad" stroke-width="1.05" stroke-linecap="round" stroke-linejoin="round"><path d="M5.3 3C5.8 1.5 6.9 1.1 8 1.1c1.300 0 2.100.700 2.500 2"/><path d="M12.600 7.500c1.500 1.100 2.200 2.300 1.700 3.600-.500 1.300-1.600 2-3.100 2.200"/><path d="M1.500 9.500c-.600 1.100-.400 2 .300 2.700.900.800 2.200.900 4 .800"/><path d="M2.800 4.200l3.300 1.200-2.800 1.800z" stroke-width=".9"/><path d="M10.800 4.500l2.900 1-2.400 1.900z" stroke-width=".9"/><path d="M9.500 11.700l-3 1.100 2.500 1.700z" stroke-width=".9"/></g><g fill="none" stroke="#0079ad" stroke-width="1.1" stroke-linejoin="round"><rect x="26.400" y="1.750" width="5.200" height="3.500" rx=".5"/><rect x="22.550" y="10.550" width="5" height="3.700" rx=".5"/><rect x="30.550" y="10.550" width="5" height="3.700" rx=".5"/><path d="M29 5.500v2M24.800 10V7.600h8.400V10" stroke-width=".7" opacity=".75"/></g><rect x="43.450" y="2.650" width="13.100" height="10.700" fill="#fff" stroke="#5b57d9" stroke-width="1.1"/><rect x="45.300" y="4.500" width="9.400" height="7" rx=".8" fill="#8581e6"/><path d="M47.400 5v6M50 5v6M52.600 5v6" stroke="#cfcdf6" stroke-width="1.050"/></svg><span class="mi"><svg class="inf" viewBox="0 0 12 12" width="12" height="12"><circle cx="6" cy="6" r="4.900" fill="none" stroke="#4b43d6" stroke-width="1"/><circle cx="6" cy="3.700" r=".700" fill="#4b43d6"/><path d="M5 5.300h1.400v3M4.800 8.500h2.600" fill="none" stroke="#4b43d6" stroke-width=".9"/></svg><span class="t m" style="transform:scaleX(1.108)">more info</span></span></div>
</div>
</div>
</body></html>
